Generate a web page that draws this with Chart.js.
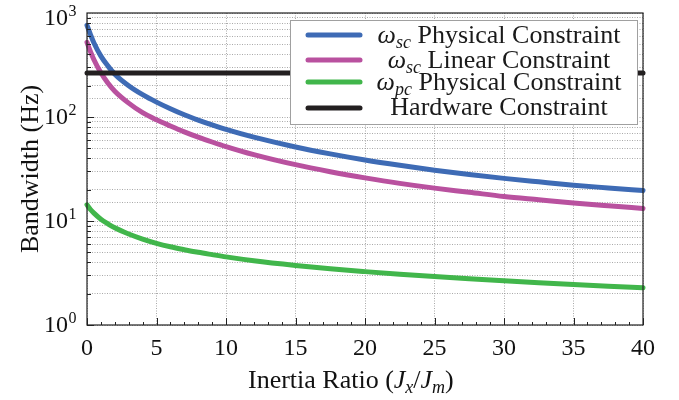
<!DOCTYPE html>
<html>
<head>
<meta charset="utf-8">
<script src="https://cdn.jsdelivr.net/npm/chart.js@4"></script>
<style>
html, body { margin: 0; padding: 0; background: #fff; }
#wrap { width: 679px; height: 400px; position: relative; }
</style>
</head>
<body>
<div id="wrap"><canvas id="chart"></canvas></div>
<script>
// values
const ratio      = [0, 0.25, 0.5, 1, 1.5, 2, 3, 4, 5, 6, 7, 8, 9, 10, 12, 15, 17.5, 20, 22.5, 25, 27.5, 30, 32.5, 35, 37.5, 40];
const scPhysical = [760, 620, 515, 385, 310, 258, 200, 164, 139, 120, 105, 93.5, 84, 76, 64, 51.5, 44.2, 38.6, 34.3, 30.8, 28, 25.7, 23.8, 22.1, 20.8, 19.6];
const scLinear   = [522, 425, 355, 266, 212, 177, 136, 110, 94, 82, 72, 64, 57.5, 52, 43.5, 34.8, 29.8, 26, 23, 20.7, 18.9, 17.2, 16, 14.9, 14, 13.2];
const pcPhysical = [14.3, 12.9, 11.9, 10.4, 9.4, 8.6, 7.5, 6.7, 6.1, 5.65, 5.3, 5.0, 4.75, 4.52, 4.15, 3.74, 3.47, 3.26, 3.08, 2.92, 2.78, 2.66, 2.55, 2.45, 2.36, 2.28];
const hardwareX  = [0, 40];
const hardwareY  = [265, 265];

const xTicks = [0, 5, 10, 15, 20, 25, 30, 35, 40];
const yExps  = [0, 1, 2, 3];

const serif = '"Liberation Serif", "Times New Roman", serif';
const colors = { blue: '#3e6bb5', magenta: '#b9519f', green: '#41b64b', black: '#231f20' };

function pts(xs, ys) { return xs.map((x, i) => ({ x: x, y: ys[i] })); }

// text pieces with sub/superscripts
function runWidth(ctx, runs) {
    let w = 0;
    runs.forEach(r => {
        ctx.font = (r.it ? 'italic ' : '') + r.size + 'px ' + serif;
        w += ctx.measureText(r.t).width;
    });
    return w;
}
function drawRuns(ctx, runs, x, y) {
    runs.forEach(r => {
        ctx.font = (r.it ? 'italic ' : '') + r.size + 'px ' + serif;
        ctx.fillText(r.t, x, y + (r.dy || 0));
        x += ctx.measureText(r.t).width;
    });
}

const legendRows = [
    { color: colors.blue,    runs: [{t:'ω', it:true, size:26}, {t:'sc', it:true, size:18, dy:5}, {t:' Physical Constraint', size:26}] },
    { color: colors.magenta, runs: [{t:'ω', it:true, size:26}, {t:'sc', it:true, size:18, dy:5}, {t:' Linear Constraint', size:26}] },
    { color: colors.green,   runs: [{t:'ω', it:true, size:26}, {t:'pc', it:true, size:18, dy:5}, {t:' Physical Constraint', size:26}] },
    { color: colors.black,   runs: [{t:'Hardware Constraint', size:26}] }
];

const decor = {
    id: 'decor',
    afterDraw(chart) {
        const ctx = chart.ctx;
        const a = chart.chartArea;
        const xs = chart.scales.x, ys = chart.scales.y;
        ctx.save();
        ctx.fillStyle = '#111';
        ctx.strokeStyle = '#222';

        // frame
        ctx.lineWidth = 1.2;
        ctx.strokeRect(a.left, a.top, a.right - a.left, a.bottom - a.top);

        // tick marks, inward
        ctx.lineWidth = 1;
        ctx.beginPath();
        for (let v = 0; v <= 40; v++) {
            const px = Math.round(xs.getPixelForValue(v)) + 0.5;
            const len = v % 5 === 0 ? 7 : 3;
            ctx.moveTo(px, a.bottom); ctx.lineTo(px, a.bottom - len);
        }
        for (let e = 0; e < 3; e++) {
            for (let m = 1; m <= 9; m++) {
                const py = Math.round(ys.getPixelForValue(m * Math.pow(10, e))) + 0.5;
                const len = m === 1 ? 7 : 4;
                ctx.moveTo(a.left, py); ctx.lineTo(a.left + len, py);
            }
        }
        ctx.stroke();

        // x tick labels
        ctx.font = '24px ' + serif;
        ctx.textAlign = 'center';
        ctx.textBaseline = 'alphabetic';
        xTicks.forEach(v => ctx.fillText(String(v), xs.getPixelForValue(v), 355));

        // y tick labels 10^n
        yExps.forEach(e => {
            const py = ys.getPixelForValue(Math.pow(10, e));
            const base = Math.max(py + 7, 25);
            ctx.font = '24px ' + serif;
            ctx.textAlign = 'right';
            ctx.fillText('10', 68, base);
            ctx.font = '16px ' + serif;
            ctx.textAlign = 'left';
            ctx.fillText(String(e), 68.5, base - 9);
        });

        // axis titles
        ctx.textAlign = 'left';
        const xt = [{t:'Inertia Ratio (', size:26}, {t:'J', it:true, size:26}, {t:'x', it:true, size:18, dy:5},
                    {t:'/', size:26}, {t:'J', it:true, size:26}, {t:'m', it:true, size:18, dy:5}, {t:')', size:26}];
        drawRuns(ctx, xt, 248, 388);

        ctx.save();
        ctx.translate(38, (a.top + a.bottom) / 2);
        ctx.rotate(-Math.PI / 2);
        ctx.font = '26px ' + serif;
        ctx.textAlign = 'center';
        ctx.fillText('Bandwidth (Hz)', 0, 0);
        ctx.restore();

        // legend
        const lx = 290, ly = 20.5, lw = 347, lh = 104;
        ctx.fillStyle = '#fff';
        ctx.fillRect(lx, ly, lw, lh);
        ctx.strokeStyle = '#a0a0a0';
        ctx.lineWidth = 1;
        ctx.strokeRect(lx + 0.5, ly, lw, lh);
        const lineY = [35, 60, 82, 108];
        const textY = [43, 68, 90, 115];
        ctx.lineCap = 'round';
        legendRows.forEach((row, i) => {
            ctx.strokeStyle = row.color;
            ctx.lineWidth = 5;
            ctx.beginPath();
            ctx.moveTo(308, lineY[i]); ctx.lineTo(360, lineY[i]);
            ctx.stroke();
            ctx.fillStyle = '#1a1a1a';
            ctx.textAlign = 'left';
            drawRuns(ctx, row.runs, 499 - runWidth(ctx, row.runs) / 2, textY[i]);
        });
        ctx.restore();
    }
};

function lineSet(label, data, color, order) {
    return {
        label: label, data: data, borderColor: color, backgroundColor: color,
        borderWidth: 5, pointRadius: 0, fill: false, clip: false, order: order,
        borderCapStyle: 'round', borderJoinStyle: 'round', cubicInterpolationMode: 'monotone'
    };
}

new Chart(document.getElementById('chart'), {
    type: 'line',
    data: {
        datasets: [
            lineSet('Hardware Constraint', pts(hardwareX, hardwareY), colors.black, 0),
            lineSet('ωsc Physical Constraint', pts(ratio, scPhysical), colors.blue, 1),
            lineSet('ωsc Linear Constraint', pts(ratio, scLinear), colors.magenta, 2),
            lineSet('ωpc Physical Constraint', pts(ratio, pcPhysical), colors.green, 3)
        ]
    },
    options: {
        responsive: true,
        maintainAspectRatio: false,
        animation: false,
        layout: { padding: { top: 13, right: 36, left: 0, bottom: 0 } },
        plugins: { legend: { display: false }, tooltip: { enabled: false } },
        scales: {
            x: {
                type: 'linear', min: 0, max: 40,
                ticks: { display: false, stepSize: 5 },
                grid: { color: 'rgba(140,140,140,0.75)', lineWidth: 1, drawTicks: false },
                border: { display: false, dash: [1, 1.5] },
                afterFit(scale) { scale.height = 75; }
            },
            y: {
                type: 'logarithmic', min: 1, max: 1000,
                ticks: { display: false },
                grid: { color: 'rgba(140,140,140,0.75)', lineWidth: 1, drawTicks: false },
                border: { display: false, dash: [1, 1.5] },
                afterFit(scale) { scale.width = 87; }
            }
        }
    },
    plugins: [decor]
});
</script>
</body>
</html>
